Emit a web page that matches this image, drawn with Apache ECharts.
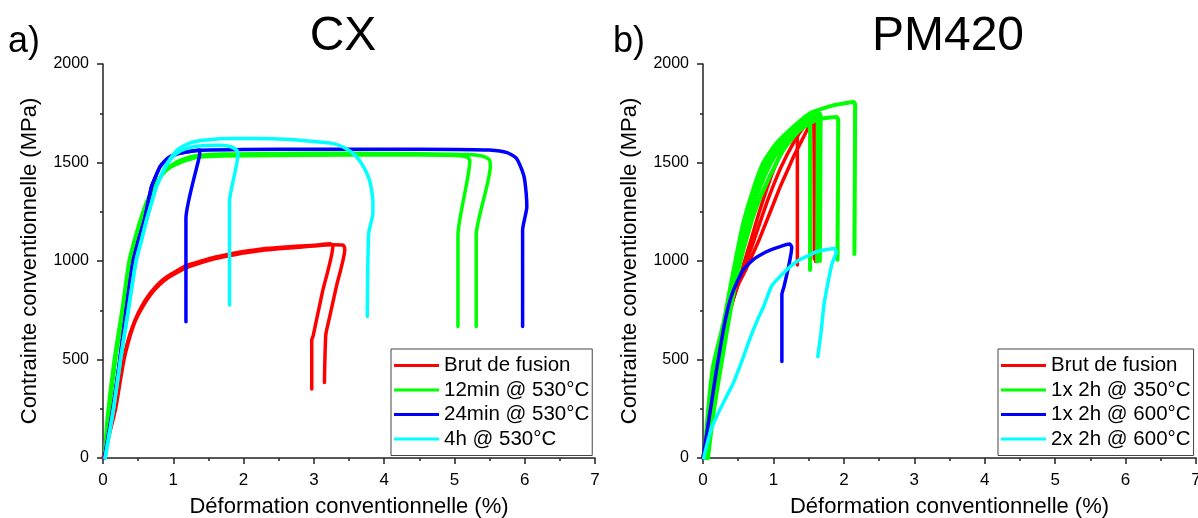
<!DOCTYPE html>
<html><head><meta charset="utf-8">
<script src="https://cdn.jsdelivr.net/npm/echarts/dist/echarts.min.js"></script>
<style>html,body{margin:0;padding:0;background:#fff}#c{width:1198px;height:518px}</style>
</head><body><div id="c"></div>
<script>
// ---------- Panel a) CX ----------
const cxBrutA = [[0,0],[0.08,120],[0.17,250],[0.24,400],[0.29,500],[0.33,560],[0.38,625],[0.455,700],[0.55,770],[0.67,836],[0.79,885],[0.91,920],[1.05,950],[1.18,976],[1.4,1000],[1.6,1020],[1.76,1032],[2.0,1048],[2.23,1060],[2.5,1068],[2.8,1076],[3.0,1080],[3.23,1088],[3.27,1075],[3.12,840],[2.99,620],[2.97,600],[2.97,350]];
const cxBrutB = [[0.01,0],[0.09,120],[0.18,250],[0.25,400],[0.3,500],[0.34,560],[0.39,625],[0.465,700],[0.56,765],[0.68,830],[0.8,878],[0.92,913],[1.06,943],[1.2,968],[1.4,992],[1.6,1012],[1.78,1025],[2.0,1040],[2.25,1053],[2.5,1062],[2.8,1070],[3.0,1076],[3.25,1082],[3.42,1080],[3.44,1060],[3.32,870],[3.21,693],[3.17,626],[3.15,383]];
const cxG12A = [[0.02,0],[0.06,200],[0.16,500],[0.27,750],[0.37,1000],[0.45,1110],[0.53,1208],[0.62,1300],[0.72,1377],[0.8,1420],[0.88,1455],[0.98,1480],[1.1,1500],[1.25,1518],[1.38,1528],[1.7,1533],[2.5,1536],[3.5,1538],[4.5,1538],[5.0,1536],[5.18,1528],[5.22,1510],[5.05,1132],[5.05,667]];
const cxG12B = [[0.03,0],[0.08,200],[0.18,500],[0.29,750],[0.39,1000],[0.47,1110],[0.55,1208],[0.64,1300],[0.74,1377],[0.82,1425],[0.9,1462],[1.0,1492],[1.12,1514],[1.3,1533],[1.7,1543],[2.5,1546],[3.5,1547],[4.5,1545],[5.2,1540],[5.42,1530],[5.5,1512],[5.51,1478],[5.31,1132],[5.31,667]];
const cxB24A = [[0.02,0],[0.05,60],[0.14,250],[0.24,500],[0.33,750],[0.43,1000],[0.51,1110],[0.59,1208],[0.69,1377],[0.75,1430],[0.81,1478],[0.88,1508],[0.95,1529],[1.05,1545],[1.19,1555],[1.4,1562],[2,1566],[3,1567],[4,1567],[5,1566],[5.5,1563],[5.75,1550],[5.88,1522],[5.96,1462],[6.0,1411],[6.03,1275],[5.97,1157],[5.97,667]];
const cxB24B = [[0.02,0],[0.05,60],[0.14,250],[0.24,500],[0.33,750],[0.43,1000],[0.51,1110],[0.59,1208],[0.69,1377],[0.75,1430],[0.81,1478],[0.88,1508],[0.95,1527],[1.05,1542],[1.19,1553],[1.3,1560],[1.38,1564],[1.37,1530],[1.18,1216],[1.18,692]];
const cx4hA = [[0.03,0],[0.06,60],[0.15,250],[0.25,500],[0.36,750],[0.47,1000],[0.55,1110],[0.62,1208],[0.76,1377],[0.84,1445],[0.91,1495],[1.0,1540],[1.05,1562],[1.15,1585],[1.28,1604],[1.5,1616],[1.8,1622],[2.2,1622],[2.6,1618],[3.0,1607],[3.27,1597],[3.45,1572],[3.6,1532],[3.72,1470],[3.8,1400],[3.84,1300],[3.84,1243],[3.78,1140],[3.76,718]];
const cx4hB = [[0.03,0],[0.06,60],[0.15,250],[0.25,500],[0.36,750],[0.47,1000],[0.55,1110],[0.62,1208],[0.76,1377],[0.84,1440],[0.91,1490],[1.0,1530],[1.1,1558],[1.25,1577],[1.45,1586],[1.66,1588],[1.82,1580],[1.91,1560],[1.92,1540],[1.8,1300],[1.8,777]];
// ---------- Panel b) PM420 ----------
const pmBrutA = [[0,0],[0.1,200],[0.2,420],[0.3,620],[0.4,770],[0.5,890],[0.6,1010],[0.7,1130],[0.8,1250],[0.9,1360],[1.0,1460],[1.1,1540],[1.2,1600],[1.34,1655],[1.34,980]];
const pmBrutB = [[0,0],[0.1,200],[0.2,420],[0.3,620],[0.4,770],[0.5,880],[0.6,950],[0.7,1030],[0.8,1110],[0.9,1200],[1.0,1290],[1.1,1380],[1.2,1460],[1.3,1540],[1.4,1610],[1.5,1680],[1.6,1731],[1.6,997]];
const pmBrutC = [[0,0],[0.1,200],[0.2,420],[0.3,620],[0.4,770],[0.5,885],[0.7,1080],[0.9,1290],[1.1,1470],[1.3,1610],[1.45,1690],[1.57,1735],[1.58,1010]];
const pmG350A = [[0.03,0],[0.05,150],[0.14,460],[0.29,684],[0.38,853],[0.47,1020],[0.57,1191],[0.71,1360],[0.85,1495],[1.04,1596],[1.28,1680],[1.52,1750],[1.85,1790],[2.0,1800],[2.14,1807],[2.16,1795],[2.15,1036]];
const pmG350B = [[0.07,0],[0.15,230],[0.24,430],[0.40,769],[0.52,980],[0.64,1140],[0.76,1275],[0.90,1393],[1.14,1562],[1.37,1663],[1.61,1716],[1.8,1728],[1.9,1731],[1.92,1715],[1.91,1006]];
const pmG350C = [[0.05,0],[0.1,200],[0.19,450],[0.33,720],[0.43,870],[0.52,1060],[0.64,1230],[0.78,1380],[0.95,1520],[1.2,1640],[1.45,1710],[1.52,1725],[1.52,954]];
const pmG350D = [[0.04,0],[0.09,220],[0.17,470],[0.31,700],[0.40,860],[0.50,1040],[0.6,1210],[0.74,1370],[0.9,1500],[1.1,1600],[1.35,1690],[1.55,1750],[1.62,1760],[1.63,1740],[1.62,997]];
const pmG350E = [[0.06,0],[0.12,220],[0.22,480],[0.36,730],[0.46,900],[0.56,1080],[0.68,1240],[0.82,1385],[1.0,1520],[1.2,1610],[1.45,1700],[1.62,1745],[1.66,1748],[1.67,1730],[1.66,1000]];
const pm1x600 = [[0,0],[0.06,140],[0.12,280],[0.18,420],[0.24,549],[0.3,670],[0.36,769],[0.42,840],[0.48,890],[0.57,954],[0.71,1006],[0.9,1047],[1.05,1068],[1.23,1086],[1.26,1070],[1.22,980],[1.15,870],[1.12,830],[1.12,490]];
const pm2x600 = [[0.01,0],[0.05,60],[0.12,150],[0.24,245],[0.33,310],[0.43,380],[0.55,490],[0.66,600],[0.76,690],[0.86,769],[0.97,870],[1.05,905],[1.14,938],[1.25,975],[1.37,1006],[1.5,1028],[1.61,1047],[1.75,1058],[1.87,1064],[1.89,1045],[1.83,985],[1.78,900],[1.72,785],[1.68,650],[1.63,515]];

const cxNames = ['Brut de fusion','12min @ 530°C','24min @ 530°C','4h @ 530°C'];
const pmNames = ['Brut de fusion','1x 2h @ 350°C','1x 2h @ 600°C','2x 2h @ 600°C'];
const colors = ['#FF0000','#00FF00','#0000FF','#00FFFF'];
const xLabelName = 'Déformation conventionnelle (%)';
const yLabelName = 'Contrainte conventionnelle (MPa)';
const FONT = "'Liberation Sans', Arial, sans-serif";

const groups = [
  {panel:0, idx:0, w:3.5, list:[cxBrutA,cxBrutB]},
  {panel:0, idx:1, w:3.5, list:[cxG12A,cxG12B]},
  {panel:0, idx:2, w:3.5, list:[cxB24A,cxB24B]},
  {panel:0, idx:3, w:3.5, list:[cx4hA,cx4hB]},
  {panel:1, idx:0, w:3.5, list:[pmBrutA,pmBrutB,pmBrutC]},
  {panel:1, idx:1, w:4, list:[pmG350A,pmG350B,pmG350C,pmG350D,pmG350E]},
  {panel:1, idx:2, w:3.5, list:[pm1x600]},
  {panel:1, idx:3, w:3.5, list:[pm2x600]}
];
const series = [];
groups.forEach(g => {
  const name = (g.panel === 0 ? cxNames : pmNames)[g.idx];
  g.list.forEach(d => {
    series.push({type:'line', name, data:d, xAxisIndex:g.panel, yAxisIndex:g.panel,
      showSymbol:false, symbol:'none', animation:false, silent:true, smooth:0.2,
      lineStyle:{color:colors[g.idx], width:g.w, join:'round', cap:'round'},
      itemStyle:{color:colors[g.idx]}});
  });
});

function xAx(i){ return {gridIndex:i, type:'value', min:0, max:7, interval:1,
  axisLine:{show:true, onZero:false, lineStyle:{color:'#222', width:1.5}},
  axisTick:{show:true, length:6, lineStyle:{color:'#222', width:1.5}},
  minorTick:{show:true, splitNumber:2, length:3, lineStyle:{color:'#222', width:1.5}},
  splitLine:{show:false},
  axisLabel:{fontSize:17, color:'#000', margin:14, fontFamily:FONT, formatter:v=>String(v)},
  name:xLabelName, nameLocation:'middle', nameGap:38,
  nameTextStyle:{fontSize:22, color:'#000', fontFamily:FONT}}; }
function yAx(i){ return {gridIndex:i, type:'value', min:0, max:2000, interval:500,
  axisLine:{show:true, onZero:false, lineStyle:{color:'#222', width:1.5}},
  axisTick:{show:true, length:6, lineStyle:{color:'#222', width:1.5}},
  minorTick:{show:true, splitNumber:2, length:3, lineStyle:{color:'#222', width:1.5}},
  splitLine:{show:false},
  axisLabel:{fontSize:16, color:'#000', margin:14, fontFamily:FONT, formatter:v=>String(v)},
  name:yLabelName, nameLocation:'middle', nameGap:62,
  nameTextStyle:{fontSize:22, color:'#000', fontFamily:FONT}}; }
function leg(names, left){ return {data:names, orient:'vertical', left, top:349,
  icon:'rect', itemWidth:45, itemHeight:3, itemGap:3.5, padding:[6,3,6,3],
  borderColor:'#444', borderWidth:1, backgroundColor:'#fff', selectedMode:false,
  textStyle:{fontSize:20.5, lineHeight:20, color:'#000', fontFamily:FONT}}; }

const chart = echarts.init(document.getElementById('c'), null, {renderer:'canvas'});
chart.setOption({
  backgroundColor:'#fff',
  animation:false,
  grid:[{left:103, top:64, width:492, height:394, outerBoundsMode:'none', containLabel:false},
        {left:703, top:64, width:493, height:394, outerBoundsMode:'none', containLabel:false}],
  xAxis:[xAx(0), xAx(1)],
  yAxis:[yAx(0), yAx(1)],
  legend:[leg(cxNames, 391), leg(pmNames, 998)],
  graphic:[
    {type:'text', left:8, top:24, style:{text:'a)', fontSize:36, fontFamily:FONT, fill:'#000'}},
    {type:'text', left:613, top:24, style:{text:'b)', fontSize:36, fontFamily:FONT, fill:'#000'}},
    {type:'text', x:343, y:37, style:{text:'CX', fontSize:48, fontFamily:FONT, fill:'#000', textAlign:'center', textVerticalAlign:'middle'}},
    {type:'text', x:948, y:37, style:{text:'PM420', fontSize:48, fontFamily:FONT, fill:'#000', textAlign:'center', textVerticalAlign:'middle'}}
  ],
  series
});
</script></body></html>
